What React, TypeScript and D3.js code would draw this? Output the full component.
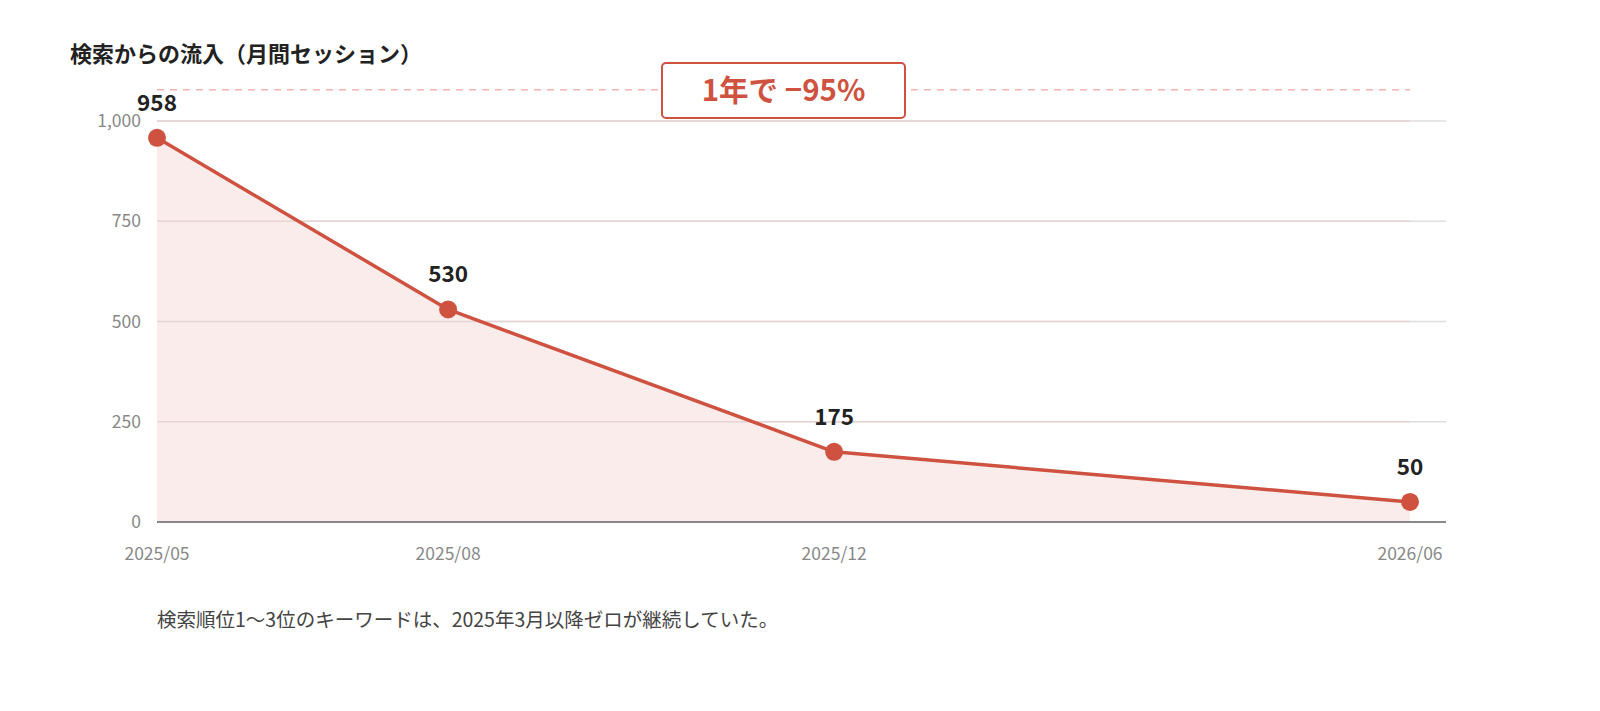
import React from 'react';
import * as d3 from 'd3';

// data
const months = ['2025-05', '2025-08', '2025-12', '2026-06'];
const sessions = [958, 530, 175, 50];
const tickLabels = ['2025/05', '2025/08', '2025/12', '2026/06'];
const yTicks = [0, 250, 500, 750, 1000];

const title = '検索からの流入（月間セッション）';
const badge = '1年で −95%';
const note = '検索順位1〜3位のキーワードは、2025年3月以降ゼロが継続していた。';

const W = 1600;
const H = 711;
const FONT = '"Noto Sans CJK JP", "Noto Sans", sans-serif';
const RED = '#cf5241';

const parse = d3.timeParse('%Y-%m');

export default function App() {
  const dates = months.map(m => parse(m) as Date);

  const x = d3.scaleTime()
    .domain([dates[0], dates[dates.length - 1]])
    .range([157, 1410]);
  const y = d3.scaleLinear().domain([0, 1000]).range([522, 121]);
  const gridRight = 1446;

  const pts = dates.map((d, i) => ({ d, v: sessions[i], label: tickLabels[i] }));

  const line = d3.line<typeof pts[0]>().x(p => x(p.d)).y(p => y(p.v));
  const area = d3.area<typeof pts[0]>().x(p => x(p.d)).y0(y(0)).y1(p => y(p.v));

  const refY = y(1078);
  const boxX = 662;
  const boxW = 243;

  return (
    <svg width={W} height={H} style={{ position: 'absolute', left: 0, top: 0, fontFamily: FONT }}>
      <rect width={W} height={H} fill="#fff" />

      <text x={70} y={62} fontSize={22} fontWeight={700} fill="#222">{title}</text>

      {/* grid */}
      {yTicks.map(t => (
        <g key={t}>
          {t !== 0 && (
            <line x1={157} x2={gridRight} y1={y(t)} y2={y(t)} stroke="#dedede" strokeWidth={1.5} />
          )}
          <text x={141} y={y(t)} dy="0.35em" textAnchor="end" fontSize={17.5} fill="#888">
            {d3.format(',')(t)}
          </text>
        </g>
      ))}

      <path d={area(pts) || ''} fill="#f9eceb" />
      {yTicks.filter(t => t !== 0).map(t => (
        <line key={'o' + t} x1={157} x2={1410} y1={y(t)} y2={y(t)} stroke="#e6d3d2" strokeWidth={1.5} />
      ))}
      <line x1={157} x2={gridRight} y1={y(0)} y2={y(0)} stroke="#888" strokeWidth={2} />

      <path d={line(pts) || ''} fill="none" stroke={RED} strokeWidth={3.5} strokeLinejoin="round" />

      {pts.map(p => (
        <g key={p.label}>
          <circle cx={x(p.d)} cy={y(p.v)} r={9} fill={RED} />
          <text x={x(p.d)} y={y(p.v) - 27} textAnchor="middle" fontSize={22.5} fontWeight={700} fill="#222">
            {p.v}
          </text>
          <text x={x(p.d)} y={560} textAnchor="middle" fontSize={17.5} fill="#888">{p.label}</text>
        </g>
      ))}

      {/* annotation */}
      <line x1={157} x2={1410} y1={refY} y2={refY} stroke="#f4b3ad" strokeWidth={1.5} strokeDasharray="7 6" />
      <rect x={boxX} y={63} width={boxW} height={55} rx={4} fill="#fff" stroke={RED} strokeWidth={2} />
      <text x={boxX + boxW / 2} y={91} dy="0.35em" textAnchor="middle" fontSize={29.5} fontWeight={700} fill={RED}>
        {badge}
      </text>

      <text x={157} y={627} fontSize={19.5} fill="#444">{note}</text>
    </svg>
  );
}
